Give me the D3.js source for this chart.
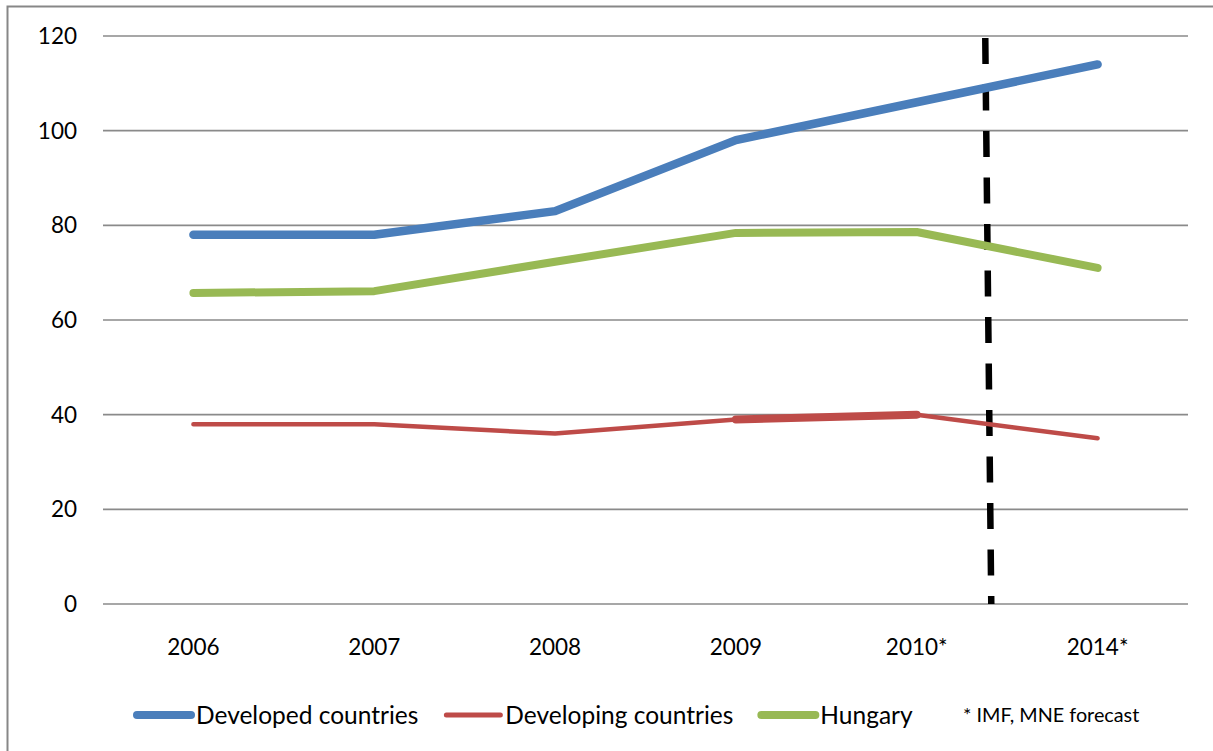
<!DOCTYPE html>
<html>
<head>
<meta charset="utf-8">
<script src="https://cdn.jsdelivr.net/npm/d3@7"></script>
<style>
  body { margin: 0; background: #fff; }
  text { font-family: Lato, "Open Sans", sans-serif; fill: #000; }
</style>
</head>
<body>
<svg id="chart" width="1213" height="751"></svg>
<script>
// chart data
const years = ['2006', '2007', '2008', '2009', '2010*', '2014*']
const developed = [78, 78, 83, 98, 106, 114]
const developing = [38, 38, 36, 39, 40, 35]
const hungary = [65.7, 66.1, 72.3, 78.4, 78.6, 71]
const yTicks = [0, 20, 40, 60, 80, 100, 120]
const seriesNames = ['Developed countries', 'Developing countries', 'Hungary']
const footnote = '* IMF, MNE forecast'
// forecast divider sits between 2010* and 2014*
const forecastFrom = '2010*', forecastTo = '2014*', forecastFrac = 0.39

const width = 1213, height = 751
const margin = {left: 103, right: 25, top: 36, bottom: 147}
const svg = d3.select('#chart')

svg.append('rect')
  .attr('width', width).attr('height', height).attr('fill', '#fff')
// outer chart border (right and bottom fall outside the picture)
svg.append('rect')
  .attr('x', 7.5).attr('y', 6.5)
  .attr('width', width + 20).attr('height', height + 20)
  .attr('fill', 'none').attr('stroke', '#878787').attr('stroke-width', 2)

const x = d3.scaleBand().domain(years).range([margin.left, width - margin.right])
const y = d3.scaleLinear().domain([0, 120]).range([height - margin.bottom, margin.top])
const cx = d => x(d) + x.bandwidth() / 2

// gridlines + y labels
const yAxis = svg.append('g')
yAxis.selectAll('line').data(yTicks).join('line')
  .attr('x1', margin.left).attr('x2', width - margin.right)
  .attr('y1', d => y(d)).attr('y2', d => y(d))
  .attr('stroke', '#8a8a8a').attr('stroke-width', 1.6)
yAxis.selectAll('text').data(yTicks).join('text')
  .attr('x', 77).attr('y', d => y(d)).attr('dy', '0.35em')
  .attr('text-anchor', 'end').attr('font-size', 22.5)
  .text(d => d)

// x labels
svg.append('g').selectAll('text').data(years).join('text')
  .attr('x', d => cx(d)).attr('y', y(0) + 43).attr('dy', '0.35em')
  .attr('text-anchor', 'middle').attr('font-size', 22.5)
  .text(d => d)

const line = d3.line().x(d => cx(d.year)).y(d => y(d.v))
const toPts = vals => vals.map((v, i) => ({year: years[i], v: v}))

const series = [
  {vals: developed, color: '#4a7ebb', w: 8.5},
  {vals: developing, color: '#be4b48', w: 4.5},
  {vals: hungary, color: '#98b954', w: 8}
]

// dashed forecast divider
const xDiv = x(forecastFrom) + x.bandwidth() / 2 + forecastFrac * (cx(forecastTo) - cx(forecastFrom))
svg.append('line')
  .attr('x1', xDiv - 2).attr('y1', y(120) + 2)
  .attr('x2', xDiv + 4).attr('y2', y(0))
  .attr('stroke', '#000').attr('stroke-width', 6.5)
  .attr('stroke-dasharray', '26 20.5')

series.forEach(s => {
  svg.append('path')
    .datum(toPts(s.vals))
    .attr('d', line)
    .attr('fill', 'none')
    .attr('stroke', s.color)
    .attr('stroke-width', s.w)
    .attr('stroke-linecap', 'round')
    .attr('stroke-linejoin', 'round')
})
// the 2009-2010 piece of the developing line is drawn heavier in the original
svg.append('path')
  .datum(toPts(developing).slice(3, 5))
  .attr('d', line)
  .attr('fill', 'none').attr('stroke', '#be4b48')
  .attr('stroke-width', 8).attr('stroke-linecap', 'round')

// legend
const legY = 715
const legend = svg.append('g')
let lx = 137
series.forEach((s, i) => {
  legend.append('line')
    .attr('x1', lx).attr('x2', lx + 54)
    .attr('y1', legY).attr('y2', legY)
    .attr('stroke', s.color).attr('stroke-width', i === 1 ? 5 : 8)
    .attr('stroke-linecap', 'round')
  const t = legend.append('text')
    .attr('x', lx + 59).attr('y', legY).attr('dy', '0.35em')
    .attr('font-size', 24.5)
    .text(seriesNames[i])
  lx += 59 + t.node().getComputedTextLength() + 28
})
legend.append('text')
  .attr('x', 963).attr('y', legY).attr('dy', '0.35em')
  .attr('font-size', 19.8)
  .text(footnote)
</script>
</body>
</html>
